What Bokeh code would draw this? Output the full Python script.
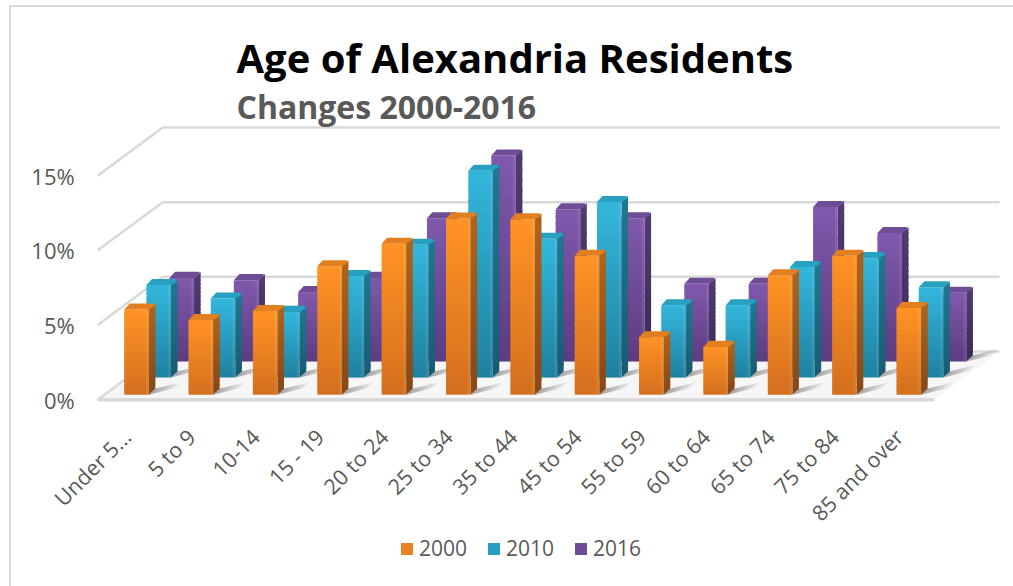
from bokeh.plotting import figure
from bokeh.embed import file_html
from bokeh.resources import INLINE
from bokeh.models import Range1d, FixedTicker, Title, Legend, LegendItem
from math import pi

categories = ["Under 5...", "5 to 9", "10-14", "15 - 19", "20 to 24", "25 to 34", "35 to 44",
              "45 to 54", "55 to 59", "60 to 64", "65 to 74", "75 to 84", "85 and over"]
y2000 = [5.7, 5.0, 5.6, 8.6, 10.1, 11.8, 11.75, 9.3, 3.85, 3.2, 8.0, 9.3, 5.8]
y2010 = [6.2, 5.3, 4.4, 6.8, 8.9, 13.85, 9.3, 11.75, 4.85, 4.85, 7.4, 8.0, 6.05]
y2016 = [5.6, 5.45, 4.65, 5.6, 9.6, 13.8, 10.2, 9.6, 5.2, 5.2, 10.35, 8.6, 4.6]
y_ticks = [0, 5, 10, 15]
y_tick_labels = ["0%", "5%", "10%", "15%"]

# scale: pixels per category and per percentage point
SX, SY = 64.23, 14.87
ANCHOR = 126.0      # page x of category 0 tick
FRONT_Y = 398.0     # page y of 0 on the front plane
FL, FR, FT, FB = 14, 1005, 123, 580
W0, H0 = 11, 7
FW, FH = 1002, 579

def ux(px): return px / SX      # pixel distance to x units
def uy(px): return px / SY      # pixel distance to y units

p = figure(width=FW + 2, height=FH + 2, output_backend="svg", toolbar_location=None,
           x_range=Range1d((FL - ANCHOR) / SX, (FR - ANCHOR) / SX),
           y_range=Range1d((FRONT_Y - FB) / SY, (FRONT_Y - FT) / SY),
           min_border_left=FL - W0, min_border_right=FW + W0 - FR,
           min_border_top=FT - H0, min_border_bottom=H0 + FH - FB,
           margin=(5, 0, 0, 9), outline_line_color=None,
           styles={"border-left": "2px solid #D9D9D9", "border-top": "2px solid #D9D9D9", "box-sizing": "border-box"})
p.grid.visible = False

# axes
ax = p.xaxis[0]
ax.fixed_location = uy(FRONT_Y - 400)
ax.ticker = FixedTicker(ticks=list(range(len(categories))))
ax.major_label_overrides = {i: c for i, c in enumerate(categories)}
ax.major_label_orientation = pi / 4
ax.major_label_text_font = "Open Sans"
ax.major_label_text_font_size = "21.5px"
ax.major_label_text_color = "#595959"
ax.major_label_standoff = 25
ax.axis_line_color = None
ax.major_tick_line_color = None
ax.minor_tick_line_color = None
ay = p.yaxis[0]
ay.fixed_location = (94 - ANCHOR) / SX
ay.ticker = FixedTicker(ticks=y_ticks)
ay.major_label_overrides = {t: l for t, l in zip(y_ticks, y_tick_labels)}
ay.major_label_text_font = "Open Sans"
ay.major_label_text_font_size = "22px"
ay.major_label_text_color = "#595959"
ay.major_label_standoff = 14
ay.axis_line_color = None
ay.major_tick_line_color = None
ay.minor_tick_line_color = None

# titles
sub = Title(text="Changes 2000-2016", text_font="Open Sans", text_font_size="32px", text_font_style="bold",
            text_color="#595959", align="left", offset=222, standoff=-8)
main = Title(text="Age of Alexandria Residents", text_font="Open Sans", text_font_size="40px", text_font_style="bold",
             text_color="#000000", align="left", offset=222, standoff=3)
p.title = None
p.add_layout(sub, "above")
p.add_layout(main, "above")

# walls and floor
DX, DY = ux(65), uy(48)
x_left = (97 - ANCHOR) / SX
x_right = (932 - ANCHOR) / SX
p.patch([x_left, x_right, x_right + DX, x_left + DX], [0, 0, DY, DY], fill_color="#F6F6F6", line_color=None)
for t in y_ticks:
    p.line([x_left + DX, x_right + DX], [t + DY, t + DY], line_color="#D9D9D9", line_width=2.5)
    p.line([x_left, x_left + DX], [t, t + DY], line_color="#D9D9D9", line_width=2.5)
p.line([x_left, x_right], [0, 0], line_color="#D9D9D9", line_width=3.5)


def lerp(c1, c2, f):
    a = [int(c1[i:i + 2], 16) for i in (1, 3, 5)]
    b = [int(c2[i:i + 2], 16) for i in (1, 3, 5)]
    return "#%02x%02x%02x" % tuple(round(u + (v - u) * f) for u, v in zip(a, b))


W, BDX, BDY = ux(24.5), ux(6.5), uy(6)
LEVELS = 20
OVER = 0.12
series = [
    ("2016", y2016, 168.7, 360, "#7F58AB", "#5B3B80", "#503A70", "#3B2A55", "#6F4C96"),
    ("2010", y2010, 145.7, 376, "#33B5DA", "#1F7F9E", "#23768F", "#1A5A70", "#28A0C0"),
    ("2000", y2000, 123.5, 393, "#FF9224", "#D26E1E", "#AE631C", "#84481A", "#E27F1E"),
]
legend_renderers = {}
for name, vals, left_px, base_px, top_c, bot_c, stop_c, sbot_c, cap_c in series:
    x0 = [(left_px - ANCHOR) / SX + i for i in range(len(vals))]
    x1 = [x + W for x in x0]
    base = (FRONT_Y - base_px) / SY
    # floor shadows
    for k in (5, 10, 15, 20, 25):
        xs, ys = [], []
        for a in x1:
            xs.append([a, a + BDX, a + BDX + ux(k), a + ux(k)])
            ys.append([base, base + BDY, base + BDY + uy(k * 0.25), base + uy(k * 0.25)])
        p.patches(xs, ys, fill_color="#444444", fill_alpha=0.10, line_color=None)
    # side faces and front faces, graded from bottom to top
    for k in range(LEVELS):
        f0, f1 = k / LEVELS, (k + 1) / LEVELS
        top_extra = OVER if k < LEVELS - 1 else 0
        xs = [[a, a + BDX, a + BDX, a] for a in x1]
        ys = [[base + v * f0, base + v * f0 + BDY, base + v * f1 + BDY + top_extra, base + v * f1 + top_extra] for v in vals]
        p.patches(xs, ys, fill_color=lerp(sbot_c, stop_c, f1), line_color=None)
    for k in range(LEVELS):
        f0, f1 = k / LEVELS, (k + 1) / LEVELS
        top_extra = OVER if k < LEVELS - 1 else 0
        r = p.quad(left=x0, right=x1,
                   bottom=[base + v * f0 for v in vals],
                   top=[base + v * f1 + top_extra for v in vals],
                   fill_color=lerp(bot_c, top_c, f1), line_color=None)
        if k == LEVELS // 2:
            legend_renderers[name] = r
    # right edge highlight of front face
    p.quad(left=[a - ux(3) for a in x1], right=x1, bottom=[base] * len(vals), top=[base + v for v in vals],
           fill_color="#FFFFFF", fill_alpha=0.07, line_color=None)
    # top caps
    xs, ys = [], []
    for a, b, v in zip(x0, x1, vals):
        t = base + v
        xs.append([a, a + BDX - ux(1), b + BDX - ux(2), b + BDX, b])
        ys.append([t, t + BDY, t + BDY, t + BDY - uy(2), t])
    p.patches(xs, ys, fill_color=cap_c, line_color=None)

legend = Legend(items=[LegendItem(label=n, renderers=[legend_renderers[n]]) for n in ("2000", "2010", "2016")],
                orientation="horizontal", location=(399 - FL, FB - 560),
                glyph_width=15, glyph_height=15, label_height=15, label_standoff=5, spacing=19,
                padding=0, margin=0, border_line_color=None, background_fill_alpha=0,
                label_text_font="Open Sans", label_text_font_size="21px", label_text_color="#595959")
p.add_layout(legend)

open("out.html", "w").write(file_html(p, INLINE))
